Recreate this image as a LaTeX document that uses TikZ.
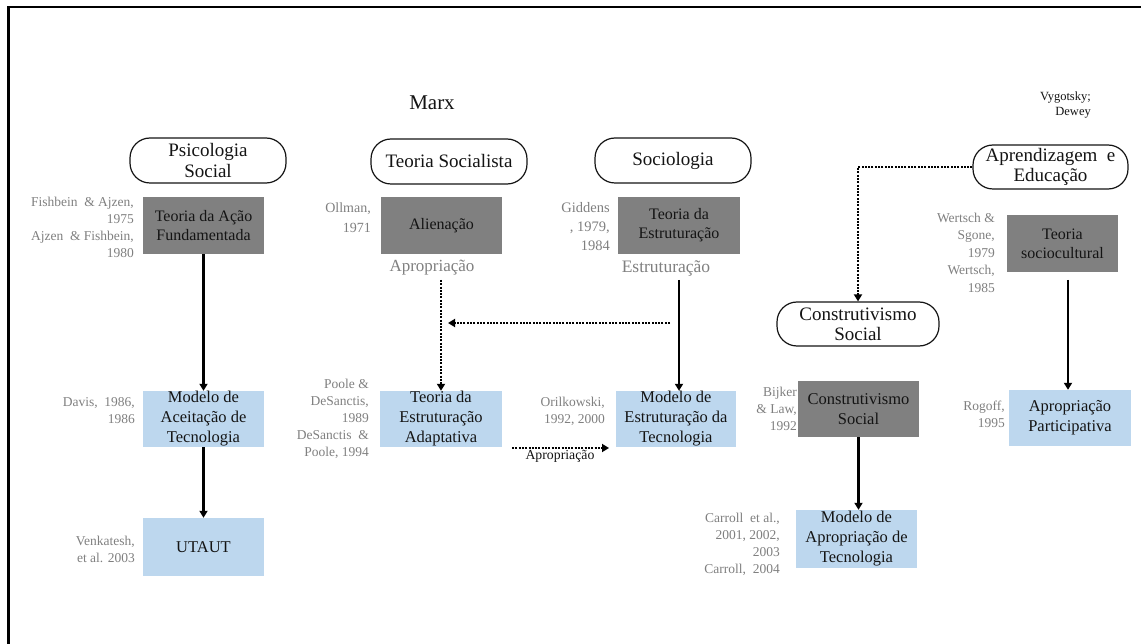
\documentclass[tikz,border=0pt]{standalone}
\usepackage{fontspec}
\setmainfont{Liberation Serif}
\usetikzlibrary{arrows.meta}
\definecolor{boxgray}{RGB}{128,128,128}
\definecolor{boxblue}{RGB}{189,215,238}
\definecolor{citegray}{RGB}{128,128,128}
\definecolor{ink}{RGB}{20,20,20}
\newcommand\setfs[2]{\fontsize{#1}{#2}\selectfont}
\tikzset{
  stadium/.style={draw=ink, line width=1.2pt, rounded corners=20pt, inner sep=0pt,
    align=center, text=ink, font=\setfs{19}{21}},
  graybox/.style={fill=boxgray, inner sep=0pt, align=center, text=ink, font=\setfs{16}{19}},
  bluebox/.style={fill=boxblue, inner sep=0pt, align=center, text=ink, font=\setfs{16.5}{20}},
  cite/.style={text=citegray, inner sep=0pt, align=right, anchor=east, font=\setfs{13.5}{17}},
  arr/.style={line width=2.2pt, draw=black, -{Triangle[width=8pt,length=7pt]}},
  dotarr/.style={line width=2.3pt, draw=black, dash pattern=on 2pt off 1.3pt,
    -{Triangle[width=8pt,length=7pt]}},
}
\begin{document}
\begin{tikzpicture}[x=1pt,y=-1pt]
\useasboundingbox (0,0) rectangle (1141,644);
\clip (0,0) rectangle (1141,644);
\fill[white] (0,0) rectangle (1141,644);

% outer frame
\draw[line width=2.6pt] (8.7,660) -- (8.7,7) -- (1160,7);

% roots
\node[text=ink, font=\setfs{21}{24}] (marx) at (432,103) {Marx};
\node[text=ink, font=\setfs{12.5}{15}, align=right, anchor=east, inner sep=0pt] (vyg) at (1091,105.5) {Vygotsky;\\Dewey};

% fields
\node[stadium, minimum width=156pt, minimum height=45pt] (psi) at (208,160.5) {Psicologia\\Social};
\node[stadium, minimum width=156pt, minimum height=45pt] (tsoc) at (449,161.5) {Teoria Socialista};
\node[stadium, minimum width=156pt, minimum height=45pt] (sociol) at (673,160.5) {Sociologia};
\node[stadium, minimum width=155pt, minimum height=44pt, font=\setfs{19}{20}] (apr) at (1050.5,167) {Aprendizagem \ e\\Educação};
\node[stadium, minimum width=162pt, minimum height=44pt, font=\setfs{19}{20}] (cons) at (858,324) {Construtivismo\\Social};

% theories
\node[graybox, minimum width=121pt, minimum height=57pt] (tra) at (203.5,225.5) {Teoria da Ação\\Fundamentada};
\node[graybox, minimum width=121pt, minimum height=57pt] (ali) at (441.5,225.5) {Alienação};
\node[graybox, minimum width=122pt, minimum height=57pt] (tes) at (679,225.5) {Teoria da\\Estruturação};
\node[graybox, minimum width=111pt, minimum height=57pt] (tsc) at (1062.5,243.5) {Teoria\\sociocultural};
\node[graybox, minimum width=121pt, minimum height=56pt, font=\setfs{16.5}{20}] (csg) at (858.5,409) {Construtivismo\\Social};

% models
\node[bluebox, minimum width=121pt, minimum height=56pt] (tam) at (203.5,419) {Modelo de\\Aceitação de\\Tecnologia};
\node[bluebox, minimum width=121pt, minimum height=58pt] (uta) at (203.5,547) {UTAUT};
\node[bluebox, minimum width=122pt, minimum height=56pt] (tea) at (441,419) {Teoria da\\Estruturação\\Adaptativa};
\node[bluebox, minimum width=120pt, minimum height=56pt] (mes) at (676,419) {Modelo de\\Estruturação da\\Tecnologia};
\node[bluebox, minimum width=121pt, minimum height=58pt] (mat) at (856.5,539) {Modelo de\\Apropriação de\\Tecnologia};
\node[bluebox, minimum width=122pt, minimum height=56pt] (apa) at (1070,418) {Apropriação\\Participativa};

% references
\node[cite] (c1) at (134,227) {Fishbein \ \& Ajzen,\\1975\\Ajzen \ \& Fishbein,\\1980};
\node[cite, font=\setfs{14}{20}] (c2) at (371,218) {Ollman,\\1971};
\node[cite, font=\setfs{14.5}{19}] (c3) at (610,227) {Giddens\\, 1979,\\1984};
\node[cite, font=\setfs{13.5}{17.5}] (c4) at (995,252.5) {Wertsch \&\\Sgone,\\1979\\Wertsch,\\1985};
\node[cite] (c5) at (135,411) {Davis, \ 1986,\\1986};
\node[cite] (c6) at (135,549) {Venkatesh,\\et al. 2003};
\node[cite] (c7) at (369,419) {Poole \&\\DeSanctis,\\1989\\DeSanctis \ \&\\Poole, 1994};
\node[cite] (c8) at (605,411) {Orilkowski,\\1992, 2000};
\node[cite] (c9) at (797,409) {Bijker\\\& Law,\\1992};
\node[cite] (c10) at (780,544) {Carroll \ et al.,\\2001, 2002,\\2003\\Carroll, \ 2004};
\node[cite] (c11) at (1005,414.5) {Rogoff,\\1995};

% process labels
\node[text=citegray, font=\setfs{17}{19}, inner sep=0pt] (lap) at (432,268) {Apropriação};
\node[text=citegray, font=\setfs{17.5}{19}, inner sep=0pt] (les) at (666,268) {Estruturação};
\node[text=ink, font=\setfs{13.8}{16}, inner sep=0pt] (lap2) at (560,456) {Apropriação};

% connectors
\coordinate (dv) at (441,280);
\coordinate (sv) at (679,280);
\coordinate (hs) at (670,323);
\coordinate (he) at (448,323);
\coordinate (ap1) at (512,448);
\coordinate (ap2) at (609,448);
\coordinate (sc) at (1068,280);

\draw[arr] (tra.south) -- (tam.north);
\draw[arr] (tam.south) -- (uta.north);
\draw[dotarr] (dv) -- (dv |- tea.north);
\draw[arr] (sv) -- (sv |- mes.north);
\draw[dotarr] (hs) -- (he);
\draw[dotarr] (ap1) -- (ap2);
\draw[dotarr] (apr.west) -| (cons.north);
\draw[arr] (sc) -- (sc |- apa.north);
\draw[arr] (csg.south) -- (csg.south |- mat.north);
\end{tikzpicture}
\end{document}
